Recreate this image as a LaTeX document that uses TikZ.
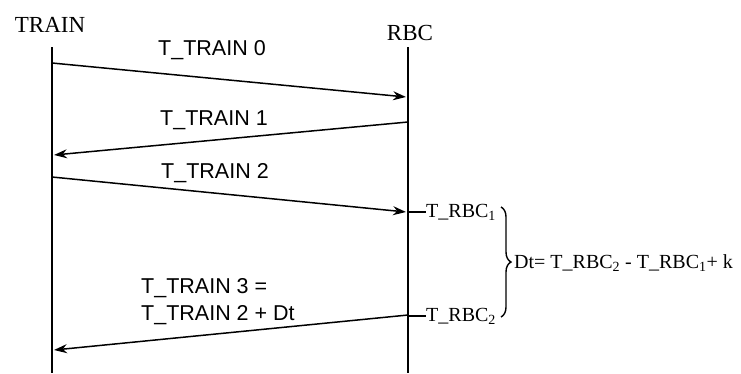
\documentclass[tikz,border=0pt]{standalone}
\usepackage{fontspec}
\setmainfont{Liberation Serif}
\setsansfont{Liberation Sans}
\usetikzlibrary{arrows.meta,decorations.pathreplacing}
\begin{document}
\begin{tikzpicture}[x=1pt,y=-1pt,
  life/.style={line width=1.5pt},
  msg/.style={line width=1.5pt,-{Stealth[length=13pt,width=9pt]}},
  tick/.style={line width=1.5pt},
  head/.style={font=\fontsize{23}{27}\selectfont,inner sep=0pt},
  sf/.style={font=\sffamily\fontsize{21.5}{27}\selectfont,inner sep=0pt},
  rm/.style={font=\fontsize{20}{24}\selectfont,inner sep=0pt}]
\useasboundingbox (0,0) rectangle (741,373);
\fill[white] (0,0) rectangle (741,373);
% lifelines
\node[head] (train) at (50,25) {TRAIN};
\node[head] (rbc) at (410,33) {RBC};
\coordinate (tt) at (52,47);
\coordinate (tb) at (52,373);
\coordinate (rt) at (408,47);
\coordinate (rb) at (408,373);
\draw[life] (tt) -- (tb);
\draw[life] (rt) -- (rb);
% message 0
\coordinate (m0s) at (52,63);
\coordinate (m0e) at (406,97);
\draw[msg] (m0s) -- (m0e);
\node[sf] (l0) at (212,50) {T\_TRAIN 0};
% message 1
\coordinate (m1s) at (408,122);
\coordinate (m1e) at (54,155);
\draw[msg] (m1s) -- (m1e);
\node[sf] (l1) at (214,120) {T\_TRAIN 1};
% message 2
\coordinate (m2s) at (52,177);
\coordinate (m2e) at (406,212);
\draw[msg] (m2s) -- (m2e);
\node[sf] (l2) at (215,173) {T\_TRAIN 2};
% T_RBC marks
\coordinate (k1) at (408,212);
\node[rm,anchor=west] (rbc1) at (426,212) {T\_RBC\textsubscript{1}};
\draw[tick] (k1) -- (rbc1.west);
\coordinate (k2) at (408,316);
\node[rm,anchor=west] (rbc2) at (426,316) {T\_RBC\textsubscript{2}};
\draw[tick] (k2) -- (rbc2.west);
% brace
\coordinate (b1) at (501,207);
\coordinate (b2) at (501,317);
\draw[line width=1.4pt,decorate,decoration={brace,amplitude=10pt}] (b1) -- (b2);
\node[rm,anchor=west] (dt) at (514,263) {Dt= T\_RBC\textsubscript{2} - T\_RBC\textsubscript{1}+ k};
% message 3
\coordinate (m3s) at (408,315);
\coordinate (m3e) at (54,350);
\draw[msg] (m3s) -- (m3e);
\node[sf,anchor=west,align=left] (l3) at (141,302) {T\_TRAIN 3 =\\T\_TRAIN 2 + Dt};
\end{tikzpicture}
\end{document}
